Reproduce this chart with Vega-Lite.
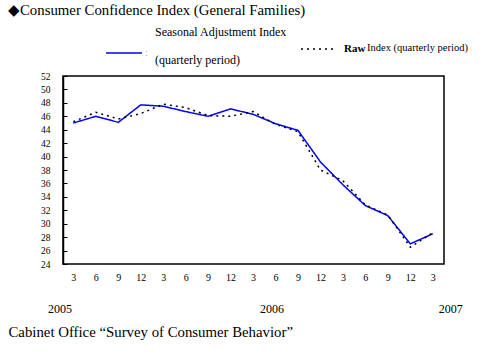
{
  "$schema": "https://vega.github.io/schema/vega-lite/v6.json",
  "width": 381,
  "height": 188,
  "autosize": {"type": "none"},
  "padding": {"left": 63, "top": 76, "right": 55, "bottom": 93},
  "background": "white",
  "config": {
    "view": {"stroke": "black", "strokeWidth": 1.5},
    "font": "Liberation Serif",
    "axis": {"labelOverlap": false},
    "legend": {
      "orient": "none",
      "direction": "horizontal",
      "padding": 0,
      "symbolType": "stroke",
      "symbolStrokeWidth": 1.5,
      "labelFont": "Liberation Serif",
      "labelColor": "black",
      "labelLimit": 300,
      "titleFont": "Liberation Serif",
      "titleColor": "black",
      "titleFontWeight": "normal",
      "titleOrient": "right",
      "titleLimit": 300
    }
  },
  "title": {
    "text": "◆Consumer Confidence Index (General Families)",
    "anchor": "start",
    "frame": "group",
    "fontSize": 14.8,
    "fontWeight": "normal",
    "font": "Liberation Serif",
    "color": "black",
    "dx": -55,
    "offset": 13
  },
  "datasets": {
    "cci": [
      {"q": 0, "series": "Seasonal", "value": 45.0},
      {"q": 1, "series": "Seasonal", "value": 46.0},
      {"q": 2, "series": "Seasonal", "value": 45.1},
      {"q": 3, "series": "Seasonal", "value": 47.7},
      {"q": 4, "series": "Seasonal", "value": 47.5},
      {"q": 5, "series": "Seasonal", "value": 46.7},
      {"q": 6, "series": "Seasonal", "value": 46.0},
      {"q": 7, "series": "Seasonal", "value": 47.1},
      {"q": 8, "series": "Seasonal", "value": 46.3},
      {"q": 9, "series": "Seasonal", "value": 44.9},
      {"q": 10, "series": "Seasonal", "value": 43.9},
      {"q": 11, "series": "Seasonal", "value": 39.2},
      {"q": 12, "series": "Seasonal", "value": 35.8},
      {"q": 13, "series": "Seasonal", "value": 32.7},
      {"q": 14, "series": "Seasonal", "value": 31.2},
      {"q": 15, "series": "Seasonal", "value": 27.0},
      {"q": 16, "series": "Seasonal", "value": 28.5},
      {"q": 0, "series": "Raw", "value": 45.2},
      {"q": 1, "series": "Raw", "value": 46.6},
      {"q": 2, "series": "Raw", "value": 45.6},
      {"q": 3, "series": "Raw", "value": 46.4},
      {"q": 4, "series": "Raw", "value": 47.8},
      {"q": 5, "series": "Raw", "value": 47.3},
      {"q": 6, "series": "Raw", "value": 46.1},
      {"q": 7, "series": "Raw", "value": 46.0},
      {"q": 8, "series": "Raw", "value": 46.7},
      {"q": 9, "series": "Raw", "value": 44.8},
      {"q": 10, "series": "Raw", "value": 43.7},
      {"q": 11, "series": "Raw", "value": 38.0},
      {"q": 12, "series": "Raw", "value": 36.4},
      {"q": 13, "series": "Raw", "value": 32.8},
      {"q": 14, "series": "Raw", "value": 31.3},
      {"q": 15, "series": "Raw", "value": 26.5},
      {"q": 16, "series": "Raw", "value": 28.65}
    ],
    "years": [
      {"year": "2005", "pos": -0.59},
      {"year": "2006", "pos": 8.84},
      {"year": "2007", "pos": 16.8}
    ]
  },
  "layer": [
    {
      "data": {"name": "cci"},
      "mark": {"type": "line", "strokeWidth": 1.5},
      "encoding": {
        "x": {
          "field": "q",
          "type": "quantitative",
          "scale": {"domain": [-0.46, 16.5], "nice": false, "zero": false},
          "axis": {
            "values": [0,1,2,3,4,5,6,7,8,9,10,11,12,13,14,15,16],
            "tickCount": 30,
            "labelExpr": "['3','6','9','12'][datum.value % 4]",
            "labelOverlap": false,
            "ticks": false,
            "domain": false,
            "grid": false,
            "labelPadding": 8,
            "labelFontSize": 10,
            "labelColor": "black",
            "labelFont": "Liberation Serif",
            "title": "Cabinet Office “Survey of Consumer Behavior”",
            "titleX": -55,
            "titleY": 68,
            "titleAlign": "left",
            "titleAnchor": null,
            "titleBaseline": "middle",
            "titleFontSize": 14.8,
            "titleFontWeight": "normal",
            "titleFont": "Liberation Serif",
            "titleColor": "black"
          }
        },
        "y": {
          "field": "value",
          "type": "quantitative",
          "scale": {"domain": [24, 52], "nice": false, "zero": false},
          "axis": {
            "values": [24,26,28,30,32,34,36,38,40,42,44,46,48,50,52],
            "tickCount": 30,
            "labelOverlap": false,
            "tickSize": -4,
            "tickColor": "black",
            "domainColor": "black",
            "domainWidth": 1.5,
            "grid": false,
            "labelPadding": 17,
            "labelFontSize": 9.5,
            "labelColor": "black",
            "labelFont": "Liberation Serif",
            "title": null
          }
        },
        "color": {
          "field": "series",
          "type": "nominal",
          "scale": {"domain": ["Seasonal", "Raw"], "range": ["#0000ff", "black"]},
          "legend": {
            "values": ["Seasonal"],
            "legendX": 42,
            "legendY": -42,
            "symbolSize": 1300,
            "symbolStrokeColor": "#4040ff",
            "labelExpr": "':'",
            "labelFontSize": 10,
            "labelColor": "#aaaaaa",
            "labelOffset": 2,
            "title": ["Seasonal Adjustment Index", "(quarterly period)"],
            "titleFontSize": 12,
            "titleLineHeight": 28,
            "titleAnchor": "middle",
            "titleBaseline": "middle",
            "titlePadding": 7
          }
        },
        "strokeDash": {
          "field": "series",
          "type": "nominal",
          "scale": {"domain": ["Raw", "Seasonal"], "range": [[2, 4], [1, 0]]},
          "legend": {
            "values": ["Raw"],
            "legendX": 237,
            "legendY": -45,
            "symbolSize": 1156,
            "symbolStrokeColor": "black",
            "labelExpr": "'Raw'",
            "labelFontSize": 11,
            "labelFontWeight": "bold",
            "labelOffset": 8,
            "title": "Index (quarterly period)",
            "titleFontSize": 10.5,
            "titleAnchor": "middle",
            "titleBaseline": "top",
            "titlePadding": 2
          }
        }
      }
    },
    {
      "data": {"name": "years"},
      "mark": {"type": "text", "dy": 45, "baseline": "middle", "align": "center", "fontSize": 12, "font": "Liberation Serif", "color": "black"},
      "encoding": {
        "x": {"field": "pos", "type": "quantitative"},
        "y": {"datum": 24},
        "text": {"field": "year"}
      }
    }
  ]
}
